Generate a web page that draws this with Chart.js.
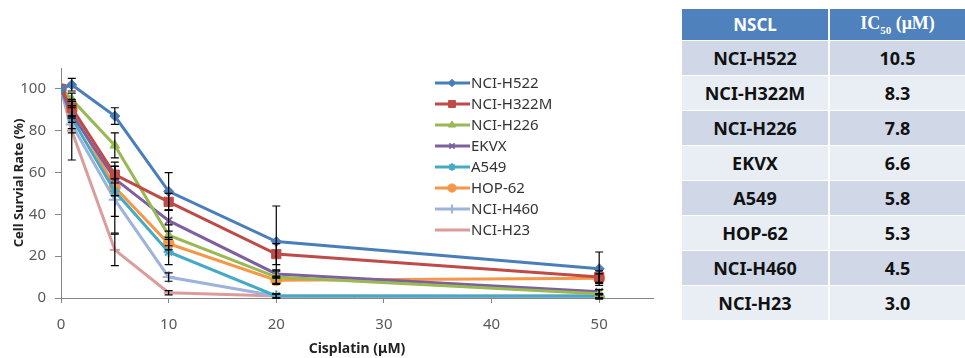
<!DOCTYPE html>
<html>
<head>
<meta charset="utf-8">
<script src="https://cdn.jsdelivr.net/npm/chart.js"></script>
<style>
  body { margin: 0; background: #fff; width: 965px; height: 358px; overflow: hidden; position: relative; font-family: "Noto Sans", sans-serif; }
  #wrap { position: absolute; left: 0; top: 0; width: 665px; height: 358px; }
  table.ic { position: absolute; left: 680px; top: 9px; width: 287px; border-collapse: collapse; }
  table.ic td, table.ic th { text-align: center; font-weight: bold; font-size: 18px; height: 34px; padding: 0; border: 2px solid #fff; border-top: 0; border-bottom: 1px solid #fff; color: #111; }
  table.ic th { background: #4f81bd; color: #fff; height: 31px; font-size: 17px; }
  table.ic th.ic50 { font-family: "Liberation Serif", serif; font-size: 18px; }
  table.ic th.ic50 sub { font-size: 11px; }
  table.ic tr.odd td { background: #d0d8e8; }
  table.ic tr.even td { background: #e9edf4; }
</style>
</head>
<body>
<div id="wrap"><canvas id="cv"></canvas></div>
<table class="ic" id="ictable">
  <tr><th style="width:146px">NSCL</th><th class="ic50">IC<sub>50</sub> (μM)</th></tr>
</table>
<script>
// doses (uM) on the x axis
const doses = [0, 1, 5, 10, 20, 50];
const cellLines = ['NCI-H522', 'NCI-H322M', 'NCI-H226', 'EKVX', 'A549', 'HOP-62', 'NCI-H460', 'NCI-H23'];

// survival (%) for each line
const h522  = [100, 102, 87, 51, 27, 14];
const h322m = [100, 91, 59, 46, 21, 10];
const h226  = [100, 95, 73, 30, 10, 2];
const ekvx  = [100, 88, 57, 37, 11.5, 3];
const a549  = [100, 86, 51, 22, 1, 1];
const hop62 = [100, 90, 53, 26, 8.5, 9.5];
const h460  = [100, 83, 47, 10, 1, 0.5];
const h23   = [100, 80, 23, 2.5, 1, 1];

// error bar half-lengths
const errH522  = [0, 3, 4, 9, 17, 8];
const errH322m = [0, 4, 4, 4, 5, 3];
const errH226  = [0, 3, 6, 5, 3, 2];
const errEkvx  = [0, 4, 8, 5, 2, 1];
const errA549  = [0, 5, 12, 6, 1, 1];
const errHop62 = [0, 4, 4, 3, 2, 2];
const errH460  = [0, 4, 16, 2, 1, 1];
const errH23   = [0, 14, 7.5, 1, 1, 1];

// IC50 table
const ic50 = ['10.5', '8.3', '7.8', '6.6', '5.8', '5.3', '4.5', '3.0'];

const series = [h522, h322m, h226, ekvx, a549, hop62, h460, h23];
const errors = [errH522, errH322m, errH226, errEkvx, errA549, errHop62, errH460, errH23];
const colors = ['#4a7ebb', '#be4b48', '#98b954', '#7d60a0', '#46aac5', '#f79646', '#9db3dc', '#dc9c9c'];
const styles = ['rectRot', 'rect', 'triangle', 'crossRot', 'star', 'circle', 'cross', 'line'];
const radii  = [5, 6.5, 5.5, 5, 5, 5.5, 6, 5];

const tbl = document.getElementById('ictable');
cellLines.forEach((name, i) => {
  const tr = document.createElement('tr');
  tr.className = i % 2 === 0 ? 'odd' : 'even';
  tr.innerHTML = '<td>' + name + '</td><td>' + ic50[i] + '</td>';
  tbl.appendChild(tr);
});

const datasets = cellLines.map((name, i) => ({
  label: name,
  data: doses.map((d, j) => ({ x: d, y: series[i][j] })),
  borderColor: colors[i],
  backgroundColor: colors[i],
  pointBorderColor: colors[i],
  pointBackgroundColor: colors[i],
  borderWidth: 3,
  pointStyle: styles[i],
  pointRadius: radii[i],
  pointBorderWidth: (styles[i] === 'crossRot' || styles[i] === 'cross' || styles[i] === 'line' || styles[i] === 'star') ? 2 : 1,
  tension: 0,
  errs: errors[i]
}));

const errorBars = {
  id: 'errorBars',
  afterDatasetsDraw(chart) {
    const ctx = chart.ctx;
    const ys = chart.scales.y;
    ctx.save();
    ctx.strokeStyle = '#000';
    ctx.lineWidth = 1.2;
    chart.data.datasets.forEach((ds, di) => {
      const meta = chart.getDatasetMeta(di);
      meta.data.forEach((pt, j) => {
        const e = ds.errs[j];
        if (!e) return;
        const v = ds.data[j].y;
        const y1 = ys.getPixelForValue(v - e);
        const y2 = ys.getPixelForValue(v + e);
        ctx.beginPath();
        ctx.moveTo(pt.x, y1); ctx.lineTo(pt.x, y2);
        ctx.moveTo(pt.x - 4, y1); ctx.lineTo(pt.x + 4, y1);
        ctx.moveTo(pt.x - 4, y2); ctx.lineTo(pt.x + 4, y2);
        ctx.stroke();
      });
    });
    ctx.restore();
  }
};

const sideLegend = {
  id: 'sideLegend',
  afterDraw(chart) {
    const ctx = chart.ctx;
    ctx.save();
    ctx.font = '15px "Noto Sans", sans-serif';
    ctx.textBaseline = 'middle';
    chart.data.datasets.forEach((ds, i) => {
      const y = 83 + i * 21;
      ctx.strokeStyle = ds.borderColor;
      ctx.lineWidth = 3;
      ctx.beginPath();
      ctx.moveTo(435, y); ctx.lineTo(470, y);
      ctx.stroke();
      if (ds.pointStyle !== 'line') {
        ctx.fillStyle = ds.backgroundColor;
        ctx.strokeStyle = ds.borderColor;
        ctx.lineWidth = ds.pointBorderWidth;
        Chart.helpers.drawPoint(ctx, {
          pointStyle: ds.pointStyle, radius: ds.pointRadius * 0.75, rotation: 0,
          borderWidth: ds.pointBorderWidth
        }, 452, y);
      }
      ctx.fillStyle = '#333';
      ctx.fillText(ds.label, 471, y + 1);
    });
    ctx.restore();
  }
};

new Chart(document.getElementById('cv'), {
  type: 'line',
  data: { datasets },
  options: {
    responsive: true,
    maintainAspectRatio: false,
    animation: false,
    layout: { padding: { top: 68, right: 12, left: 0, bottom: 0 } },
    plugins: { legend: { display: false }, tooltip: { enabled: false } },
    scales: {
      x: {
        type: 'linear', min: 0, max: 55,
        afterBuildTicks: (ax) => { ax.ticks = ax.ticks.filter(t => t.value <= 50); },
        afterFit: (ax) => { ax.height = 60; },
        ticks: { stepSize: 10, color: '#595959', font: { family: 'Noto Sans', size: 15 }, padding: 13 },
        grid: { drawOnChartArea: false, drawTicks: true, tickLength: 5, color: '#868686' },
        border: { color: '#868686', width: 1 },
        title: { display: true, text: 'Cisplatin (μM)', color: '#222', font: { family: 'Noto Sans', size: 14, weight: 'bold' }, padding: { top: 2, bottom: 1 } }
      },
      y: {
        min: 0, max: 110,
        afterBuildTicks: (ax) => { ax.ticks = ax.ticks.filter(t => t.value <= 100); },
        afterFit: (ax) => { ax.width = 61; },
        ticks: { stepSize: 20, color: '#595959', font: { family: 'Noto Sans', size: 15 }, padding: 9 },
        grid: { drawOnChartArea: false, drawTicks: true, tickLength: 6, color: '#868686' },
        border: { color: '#868686', width: 1 },
        title: { display: true, text: 'Cell Survial Rate (%)', color: '#222', font: { family: 'Noto Sans', size: 13, weight: 'bold' }, padding: { top: 11, bottom: 4 } }
      }
    }
  },
  plugins: [errorBars, sideLegend]
});
</script>
</body>
</html>
